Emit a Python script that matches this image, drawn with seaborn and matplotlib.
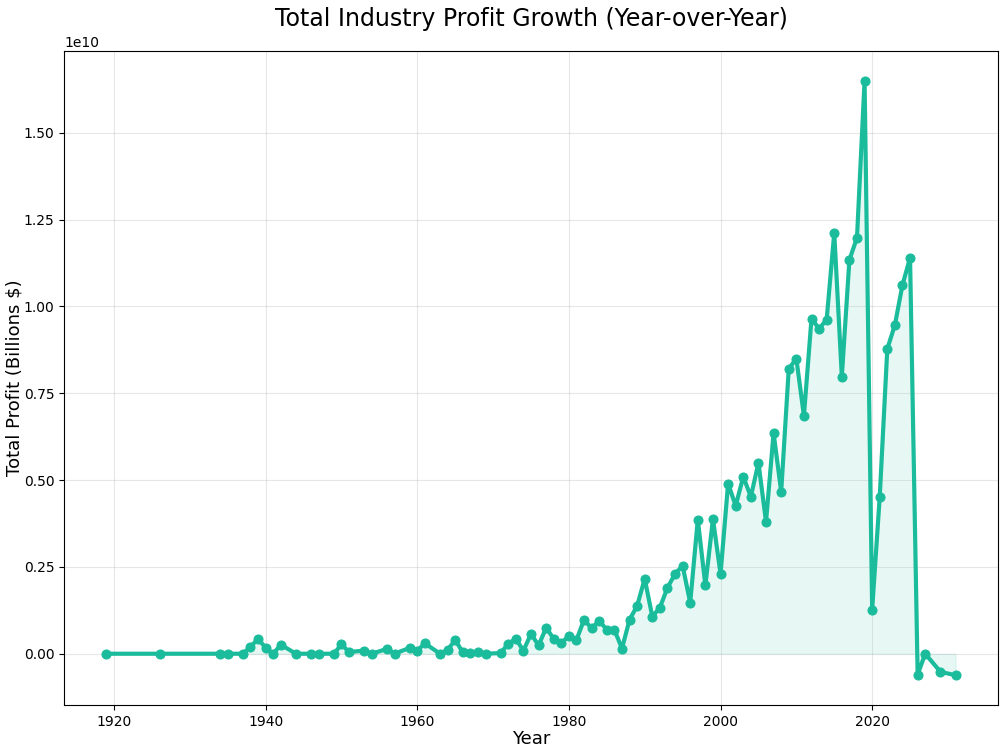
import numpy as np
import pandas as pd
import matplotlib
matplotlib.use('Agg')
import matplotlib.pyplot as plt
import seaborn as sns

# Year-over-year total profit (in units of 1e10 $)
years = [1919, 1926, 1934, 1935, 1937, 1938, 1939, 1940, 1941, 1942,
         1944, 1946, 1947, 1949, 1950, 1951, 1953, 1954, 1956, 1957,
         1959, 1960, 1961, 1963, 1964, 1965, 1966, 1967, 1968, 1969,
         1971, 1972, 1973, 1974, 1975, 1976, 1977, 1978, 1979, 1980,
         1981, 1982, 1983, 1984, 1985, 1986, 1987, 1988, 1989, 1990,
         1991, 1992, 1993, 1994, 1995, 1996, 1997, 1998, 1999, 2000,
         2001, 2002, 2003, 2004, 2005, 2006, 2007, 2008, 2009, 2010,
         2011, 2012, 2013, 2014, 2015, 2016, 2017, 2018, 2019, 2020,
         2021, 2022, 2023, 2024, 2025, 2026, 2027, 2029, 2031]
profit_e10 = [0.0, 0.0, 0.0, 0.0, 0.0, 0.02, 0.043, 0.017, 0.0, 0.026,
              0.0, 0.0, 0.0, 0.0, 0.027, 0.005, 0.009, 0.0, 0.014, 0.0,
              0.017, 0.009, 0.03, 0.0, 0.011, 0.04, 0.004, 0.002, 0.004, 0.0,
              0.002, 0.029, 0.043, 0.009, 0.057, 0.024, 0.075, 0.043, 0.03, 0.052,
              0.04, 0.098, 0.073, 0.095, 0.069, 0.069, 0.015, 0.098, 0.138, 0.216,
              0.107, 0.133, 0.19, 0.23, 0.253, 0.147, 0.386, 0.197, 0.388, 0.23,
              0.49, 0.426, 0.51, 0.452, 0.55, 0.38, 0.636, 0.466, 0.82, 0.85,
              0.685, 0.965, 0.936, 0.962, 1.212, 0.798, 1.134, 1.198, 1.65, 0.127,
              0.452, 0.878, 0.947, 1.062, 1.14, -0.06, 0.0, -0.052, -0.062]

df = pd.DataFrame({'Year': years, 'Profit': np.array(profit_e10) * 1e10})

color = '#1abc9c'

fig, ax = plt.subplots(figsize=(10, 7.5), dpi=100)
sns.lineplot(data=df, x='Year', y='Profit', ax=ax, color=color,
             linewidth=3, marker='o', markersize=6.5, markeredgecolor=color)
ax.fill_between(df['Year'], df['Profit'], 0, color=color, alpha=0.1)

ax.grid(True, alpha=0.3)
ax.set_title('Total Industry Profit Growth (Year-over-Year)', fontsize=17, pad=18)
ax.set_xlabel('Year', fontsize=13, labelpad=1)
ax.set_ylabel('Total Profit (Billions $)', fontsize=13, labelpad=0)

fig.subplots_adjust(left=0.064, right=0.998, top=0.932, bottom=0.06)
fig.savefig('out.png', dpi=100)
